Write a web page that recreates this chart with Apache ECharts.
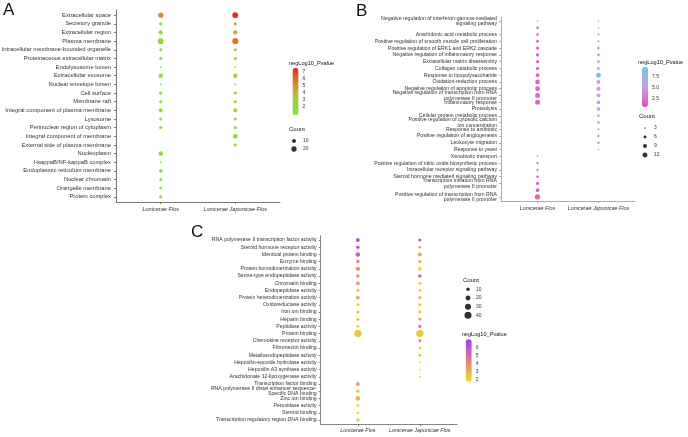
<!DOCTYPE html>
<html><head><meta charset="utf-8">
<script src="https://cdn.jsdelivr.net/npm/echarts@6/dist/echarts.min.js"></script>
<style>html,body{margin:0;padding:0;background:#fff}#c{width:688px;height:437px}</style>
</head><body><div id="c"></div>
<script>
const xCategories = ['Lonicerae Flos', 'Lonicerae Japonicae Flos'];

// ---------- Panel A (cellular component) ----------
const termsA = ['Extracellular space','Secretory granule','Extracellular region','Plasma membrane',
 'Intracellular membrane-bounded organelle','Proteinaceous extracellular matrix','Endolysosome lumen',
 'Extracellular exosome','Nuclear envelope lumen','Cell surface','Membrane raft',
 'Integral component of plasma membrane','Lysosome','Perinuclear region of cytoplasm',
 'Integral component of membrane','External side of plasma membrane','Nucleoplasm',
 'I-kappaB/NF-kappaB complex','Endoplasmic reticulum membrane','Nuclear chromatin',
 'Orangelle membrane','Protein complex'];
const flosCountA = [20,6,12,25,5,5,1,13,1,6,5,10,5,7,null,null,15,1,8,5,4,6];
const flosPA     = [4.9,2.1,2.4,2.3,2.1,2.2,1.0,2.2,1.0,2.1,2.0,2.3,2.0,2.2,null,null,2.1,1.0,2.2,2.0,2.0,2.1];
const japCountA  = [24,5,12,28,5,5,1,13,1,5,5,11,5,5,15,5,null,null,null,null,null,null];
const japPA      = [7.3,4.2,3.9,5.6,2.3,2.6,1.0,2.5,1.0,2.7,2.9,2.5,2.3,2.2,2.4,2.0,null,null,null,null,null,null];
const colorTicksA = [2,3,4,5,6,7];
const countBreaksA = [10,20];

// ---------- Panel B (biological process) ----------
const termsB = ['Negative regulation of interferon-gamma-mediated\nsignaling pathway','Lipoxygenase pathway',
 'Arachidonic acid metabolic process','Positive regulation of smooth muscle cell proliferation',
 'Positive regulation of ERK1 and ERK2 cascade','Negative regulation of inflammatory response',
 'Extracellular matrix disassembly','Collagen catabolic process','Response to lipopolysaccharide',
 'Oxidation-reduction process','Negative regulation of apoptotic process',
 'Negative regulation of transcription from RNA\npolymerase II promoter','Inflammatory response',
 'Proteolysis','Cellular protein metabolic process','Positive regulation of cytosolic calcium\nion concentration',
 'Response to antibiotic','Positive regulation of angiogenesis','Leukocyte migration','Response to yeast',
 'Xenobiotic transport','Positive regulation of nitric oxide biosynthetic process',
 'Intracellular receptor signaling pathway','Steroid hormone mediated signaling pathway',
 'Transcription initiation from RNA\npolymerase II promoter','Response to drug',
 'Positive regulation of transcription from RNA\npolymerase II promoter'];
const flosCountB = [3,5,5,6,7,7,7,7,8,11,11,12,12,null,null,null,null,null,null,null,3,4,4,5,7,8,13];
const flosPB     = [1.6,1.8,1.8,1.9,1.9,1.9,1.9,1.9,2.0,2.1,2.1,2.2,2.2,null,null,null,null,null,null,null,1.5,1.7,1.7,1.8,1.9,1.9,2.3];
const japCountB  = [3,3,4,4,5,5,6,6,11,8,9,8,8,8,5,5,4,5,5,3,null,null,null,null,null,null,null];
const japPB      = [2.8,3.2,3.5,3.6,3.8,3.8,6.2,5.8,9.6,4.5,5.0,5.2,6.4,5.4,4.5,4.4,4.3,4.5,4.6,3.3,null,null,null,null,null,null,null];
const colorTicksB = [2.5,5.0,7.5];
const countBreaksB = [3,6,9,12];

// ---------- Panel C (molecular function) ----------
const termsC = ['RNA polymerase II transcription factor activity','Steroid hormone receptor activity',
 'Identical protein binding','Enzyme binding','Protein homodimerization activity',
 'Serine-type endopeptidase activity','Chromatin binding','Endopeptidase activity',
 'Protein heterodimerization activity','Oxidoreductase activity','Iron ion binding','Heparin binding',
 'Peptidase activity','Protein binding','Chemokine receptor activity','Fibronectin binding',
 'Metalloendopeptidase activity','Hepoxilin-epoxide hydrolase activity','Hepoxilin A3 synthase activity',
 'Arachidonate 12-lipoxygenase activity','Transcription factor binding',
 'RNA polymerase II distal enhancer sequence-\nSpecific DNA binding','Zinc ion binding',
 'Peroxidase activity','Steroid binding','Transcription regulatory region DNA binding'];
const flosCountC = [12,9,17,10,15,10,12,8,12,7,8,8,7,45,null,null,null,null,null,null,12,8,18,6,6,10];
const flosPC     = [6.6,6.2,5.6,4.2,4.0,3.8,3.6,2.8,3.3,2.3,2.7,2.4,2.2,2.5,null,null,null,null,null,null,3.6,2.7,3.0,2.2,2.0,2.2];
const japCountC  = [8,7,13,9,11,11,8,7,9,7,7,8,8,43,6,6,7,3,3,4,null,null,null,null,null,null];
const japPC      = [6.0,3.0,3.3,3.2,2.3,4.8,2.2,2.3,2.8,2.3,2.7,3.8,5.0,2.4,5.2,2.3,2.6,1.85,1.85,2.0,null,null,null,null,null,null];
const colorTicksC = [2,3,4,5,6];
const countBreaksC = [10,20,30,40];

const FONT = '"Liberation Sans", Arial, sans-serif';
const option = {
  animation: false,
  textStyle: { fontFamily: FONT },
  grid: [], xAxis: [], yAxis: [], series: [], visualMap: [], title: []
};

function pts(counts, ps, xi) {
  const out = [];
  counts.forEach((c, i) => { if (c != null) out.push([xi, i + 1, c, ps[i]]); });
  return out;
}

function addTitle(text, left, top, size) {
  option.title.push({ text, left, top, padding: 0,
    textStyle: { fontSize: size, fontWeight: 'normal', color: '#111', fontFamily: FONT } });
}

function addPanel(p) {
  const n = p.terms.length;
  const gi = option.grid.length;
  option.grid.push({ left: p.grid[0], top: p.grid[1], width: p.grid[2], height: p.grid[3], outerBoundsMode: 'none', containLabel: false });
  const xi = option.xAxis.length;
  option.xAxis.push({
    gridIndex: gi, type: 'value', min: 0.4, max: 2.6,
    splitLine: { show: false },
    axisLine: { onZero: false, lineStyle: { color: p.axisColor, width: 0.8 } },
    axisTick: { customValues: [1, 2], length: 2, lineStyle: { color: p.axisColor, width: 0.8 } },
    axisLabel: { customValues: [1, 2], formatter: v => xCategories[Math.round(v) - 1],
      showMinLabel: true, showMaxLabel: true,
      fontSize: p.xFont, fontStyle: 'italic', color: '#333', margin: p.xMargin, fontFamily: FONT }
  });
  const yi = option.yAxis.length;
  const idx = p.terms.map((t, i) => i + 1);
  option.yAxis.push({
    gridIndex: gi, type: 'value', inverse: true, min: 0.4, max: n + 0.6,
    splitLine: { show: false },
    axisLine: { onZero: false, lineStyle: { color: p.axisColor, width: 0.8 } },
    axisTick: { customValues: idx, length: 2, lineStyle: { color: p.axisColor, width: 0.8 } },
    axisLabel: { customValues: idx, formatter: v => p.terms[Math.round(v) - 1],
      showMinLabel: true, showMaxLabel: true, hideOverlap: false,
      fontSize: p.yFont, lineHeight: p.yFont * 1.05, color: '#333', margin: p.yMargin, fontFamily: FONT }
  });
  const s0 = option.series.length;
  [pts(p.flosCount, p.flosP, 1), pts(p.japCount, p.japP, 2)].forEach(d => {
    option.series.push({ type: 'scatter', xAxisIndex: xi, yAxisIndex: yi, data: d, silent: true,
      symbolSize: v => p.size(v[2]), itemStyle: { opacity: 1 } });
  });
  // colour bar
  const cb = p.colorbar;
  option.visualMap.push({
    type: 'continuous', seriesIndex: [s0, s0 + 1], dimension: 3, min: cb.min, max: cb.max,
    inRange: { color: cb.colors }, show: true, calculable: false, hoverLink: false,
    left: cb.left, top: cb.top, itemWidth: cb.w, itemHeight: cb.h, padding: 0, orient: 'vertical'
  });
  const cg = option.grid.length;
  option.grid.push({ left: cb.left, top: cb.top, width: cb.w, height: cb.h, outerBoundsMode: 'none' });
  option.xAxis.push({ gridIndex: cg, type: 'value', min: 0, max: 1, show: false });
  option.yAxis.push({ gridIndex: cg, type: 'value', min: cb.min, max: cb.max, position: 'right',
    axisLine: { show: false }, axisTick: { show: false }, splitLine: { show: false },
    axisLabel: { customValues: cb.ticks, formatter: cb.fmt, fontSize: 5, color: '#333', margin: 4, fontFamily: FONT } });
  addTitle('negLog10_Pvalue', cb.titleLeft, cb.titleTop, 5.6);
  // count legend
  const lg = p.legend;
  const lgi = option.grid.length;
  option.grid.push({ left: lg.x - 3, top: lg.top, width: 6, height: lg.step * lg.breaks.length, outerBoundsMode: 'none' });
  const lxi = option.xAxis.length;
  option.xAxis.push({ gridIndex: lgi, type: 'value', min: -1, max: 1, show: false });
  const lyi = option.yAxis.length;
  option.yAxis.push({ gridIndex: lgi, type: 'category', inverse: true, data: lg.breaks.map(String), position: 'right',
    axisLine: { show: false }, axisTick: { show: false },
    axisLabel: { fontSize: 5, color: '#333', margin: lg.margin, fontFamily: FONT } });
  option.series.push({ type: 'scatter', xAxisIndex: lxi, yAxisIndex: lyi, silent: true,
    data: lg.breaks.map((b, i) => [0, i, b]), symbolSize: v => p.size(v[2]), itemStyle: { color: '#000' } });
  addTitle('Count', lg.titleLeft, lg.titleTop, 6);
}

addPanel({
  terms: termsA, flosCount: flosCountA, flosP: flosPA, japCount: japCountA, japP: japPA,
  grid: [116, 10, 164, 192], axisColor: '#555', xFont: 5.6, xMargin: 4, yFont: 5.8, yMargin: 5,
  size: c => 0.87 + 0.99 * Math.sqrt(c),
  colorbar: { min: 0.75, max: 7.45, left: 292.5, top: 68, w: 6, h: 47, ticks: colorTicksA, fmt: v => String(Math.round(v)),
    colors: ['#78ea3a', '#8fdc3c', '#b4c236', '#d09a30', '#e0602a', '#e8281e'], titleLeft: 289, titleTop: 60 },
  legend: { breaks: countBreaksA, x: 294, top: 137, step: 8, margin: 6, titleLeft: 289, titleTop: 126 }
});
addPanel({
  terms: termsB, flosCount: flosCountB, flosP: flosPB, japCount: japCountB, japP: japPB,
  grid: [501, 17, 134, 184], axisColor: '#999', xFont: 5.4, xMargin: 5, yFont: 5.2, yMargin: 4,
  size: c => Math.max(0.8, 1.5 + 2.02 * (Math.sqrt(c) - 1.732)),
  colorbar: { min: 0.7, max: 9.8, left: 642, top: 67, w: 6, h: 40, ticks: colorTicksB, fmt: v => v.toFixed(1),
    colors: ['#e64cb4', '#d67ac8', '#c89ee0', '#9ab8e8', '#62c8e2'], titleLeft: 638, titleTop: 59 },
  legend: { breaks: countBreaksB, x: 645, top: 123.5, step: 9, margin: 6, titleLeft: 639, titleTop: 113 }
});
addPanel({
  terms: termsC, flosCount: flosCountC, flosP: flosPC, japCount: japCountC, japP: japPC,
  grid: [320.7, 235.7, 136.3, 188.6], axisColor: '#666', xFont: 5.4, xMargin: 4, yFont: 5.2, yMargin: 4,
  size: c => 1.107 * Math.sqrt(c),
  colorbar: { min: 1.8, max: 7.1, left: 465.7, top: 339.3, w: 6, h: 42.4, ticks: colorTicksC, fmt: v => String(Math.round(v)),
    colors: ['#e6e22a', '#eab050', '#e67e8c', '#c85ac8', '#9a40f0'], titleLeft: 461.7, titleTop: 331 },
  legend: { breaks: countBreaksC, x: 468, top: 285, step: 8.67, margin: 5, titleLeft: 463, titleTop: 277 }
});

addTitle('A', 3, 2, 17);
addTitle('B', 356, 3, 17);
addTitle('C', 191, 224, 17);

const chart = echarts.init(document.getElementById('c'), null, { renderer: 'canvas', width: 688, height: 437 });
chart.setOption(option);
</script>
</body></html>
